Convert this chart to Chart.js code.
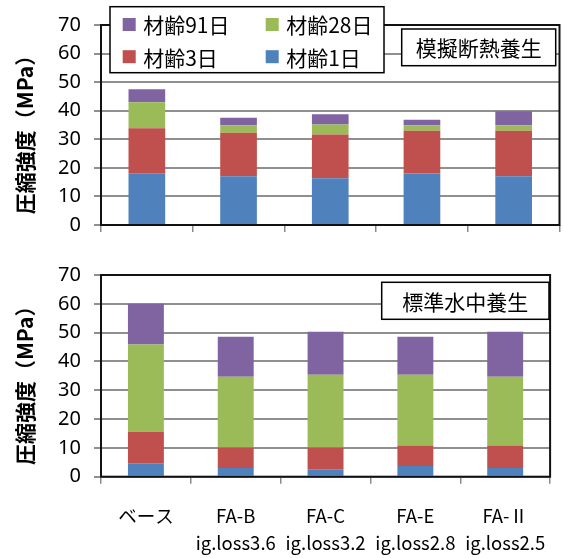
<!DOCTYPE html>
<html>
<head>
<meta charset="utf-8">
<script src="https://cdn.jsdelivr.net/npm/chart.js@4/dist/chart.umd.min.js"></script>
<style>
  html, body { margin: 0; padding: 0; background: #fff; }
  #wrap { position: relative; width: 564px; height: 558px; }
  canvas { position: absolute; left: 0; }
</style>
</head>
<body>
<div id="wrap">
  <canvas id="adiabatic" width="564" height="250" style="top:0"></canvas>
  <canvas id="standard" width="564" height="308" style="top:250px"></canvas>
</div>
<script>
// Mixes (with ignition loss) on the category axis
const categories = [
  ['ベース'],
  ['FA-B', 'ig.loss3.6'],
  ['FA-C', 'ig.loss3.2'],
  ['FA-E', 'ig.loss2.8'],
  ['FA-Ⅱ', 'ig.loss2.5']
];

const seriesLabels = ['材齢1日', '材齢3日', '材齢28日', '材齢91日'];

// Compressive strength (MPa) at each age — simulated adiabatic curing
const adiabaticDay1  = [18.1, 17.1, 16.4, 18.0, 17.1];
const adiabaticDay3  = [33.9, 32.3, 31.7, 33.0, 33.0];
const adiabaticDay28 = [43.0, 34.9, 35.2, 34.9, 34.9];
const adiabaticDay91 = [47.5, 37.5, 38.8, 36.8, 39.8];

// Compressive strength (MPa) at each age — standard water curing
const standardDay1  = [4.7, 3.0, 2.6, 3.7, 3.0];
const standardDay3  = [15.6, 10.1, 10.1, 10.8, 10.8];
const standardDay28 = [45.9, 34.7, 35.4, 35.4, 34.7];
const standardDay91 = [60.0, 48.6, 50.3, 48.6, 50.3];

const yTicks = [0, 10, 20, 30, 40, 50, 60, 70];

const seriesColors = ['#4F81BD', '#C0504D', '#9BBB59', '#8064A2'];
const numFont = "'Noto Sans', 'Noto Sans CJK JP', sans-serif";
const cjkFont = "'Noto Sans CJK JP', 'Noto Sans', sans-serif";

// Each stacked segment is the strength gained since the previous age
function gains(levels) {
  return levels.map((arr, i) => arr.map((v, j) => i === 0 ? v : +(v - levels[i - 1][j]).toFixed(2)));
}

function buildDatasets(levels) {
  const seg = gains(levels);
  return seg.map((data, i) => ({
    label: seriesLabels[i],
    data: data,
    backgroundColor: seriesColors[i],
    borderWidth: 0,
    barPercentage: 0.4,
    categoryPercentage: 1.0,
    stack: 'age'
  }));
}

// Frame round the plot area, y title, legend box and curing-condition box
const decorations = {
  id: 'decorations',
  afterDatasetsDraw(chart, args, opts) {
    const { ctx, chartArea: a } = chart;
    ctx.save();
    ctx.strokeStyle = '#111';
    ctx.lineWidth = 2;
    ctx.strokeRect(a.left, a.top, a.right - a.left, a.bottom - a.top);

    // rotated y-axis title
    ctx.save();
    ctx.translate(25, (a.top + a.bottom) / 2 + 4.5);
    ctx.rotate(-Math.PI / 2);
    ctx.fillStyle = '#000';
    ctx.font = "bold 21px " + cjkFont;
    ctx.textAlign = 'center';
    ctx.textBaseline = 'middle';
    ctx.fillText('圧縮強度（MPa）', 0, 0);
    ctx.restore();

    // legend
    if (opts.legend) {
      const L = opts.legend;
      ctx.fillStyle = '#fff';
      ctx.fillRect(L.x, L.y, L.w, L.h);
      ctx.lineWidth = 1.5;
      ctx.strokeStyle = '#000';
      ctx.strokeRect(L.x, L.y, L.w, L.h);
      const order = [[3, 2], [1, 0]];
      ctx.font = "21px " + cjkFont;
      ctx.textAlign = 'left';
      ctx.textBaseline = 'middle';
      order.forEach((row, r) => {
        row.forEach((di, c) => {
          const ds = chart.data.datasets[di];
          const sx = L.x + L.colX[c];
          const cy = L.y + L.rowY[r];
          ctx.fillStyle = ds.backgroundColor;
          ctx.fillRect(sx, cy - 6.5, 13, 13);
          ctx.fillStyle = '#000';
          ctx.fillText(ds.label, sx + 20.5, cy + 1);
        });
      });
    }

    // curing condition box
    if (opts.note) {
      const N = opts.note;
      ctx.fillStyle = '#fff';
      ctx.fillRect(N.x, N.y, N.w, N.h);
      ctx.lineWidth = 1.5;
      ctx.strokeStyle = '#000';
      ctx.strokeRect(N.x, N.y, N.w, N.h);
      ctx.fillStyle = '#000';
      ctx.font = "21px " + cjkFont;
      ctx.textAlign = 'center';
      ctx.textBaseline = 'middle';
      ctx.fillText(N.text, N.x + N.w / 2, N.y + N.h / 2 + 1);
    }
    ctx.restore();
  }
};

function makeChart(id, levels, cfg) {
  return new Chart(document.getElementById(id), {
    type: 'bar',
    data: { labels: categories, datasets: buildDatasets(levels) },
    plugins: [decorations],
    options: {
      responsive: false,
      animation: false,
      devicePixelRatio: 1,
      layout: { padding: cfg.padding },
      plugins: {
        legend: { display: false },
        tooltip: { enabled: false },
        title: { display: false },
        decorations: { legend: cfg.legend, note: cfg.note }
      },
      scales: {
        x: {
          stacked: true,
          offset: true,
          grid: { offset: true, drawOnChartArea: false, drawTicks: true, tickLength: 7, color: '#8a8a8a', lineWidth: 1.5 },
          border: { display: false },
          ticks: {
            display: cfg.showLabels,
            color: '#000',
            padding: 18,
            maxRotation: 0,
            autoSkip: false,
            font: { family: cjkFont, size: 18.5, lineHeight: 1.5 }
          },
          afterFit: s => { s.height = cfg.xHeight; }
        },
        y: {
          stacked: true,
          min: 0,
          max: 70,
          afterBuildTicks: s => { s.ticks = yTicks.map(v => ({ value: v })); },
          grid: { color: '#8f8f8f', lineWidth: 2, tickLength: 7, drawTicks: true },
          border: { display: false },
          ticks: {
            color: '#000',
            padding: 13,
            font: { family: numFont, size: 20 }
          },
          afterFit: s => { s.width = 101; }
        }
      }
    }
  });
}

makeChart('adiabatic',
  [adiabaticDay1, adiabaticDay3, adiabaticDay28, adiabaticDay91],
  {
    padding: { top: 15.7, right: 4.5, bottom: 0, left: 0 },
    xHeight: 18.3,
    showLabels: false,
    legend: { x: 110, y: 6.7, w: 274, h: 66, colX: [12.7, 155.7], rowY: [17.8, 50] },
    note: { text: '模擬断熱養生', x: 401.7, y: 29, w: 154, h: 36.7 }
  });

makeChart('standard',
  [standardDay1, standardDay3, standardDay28, standardDay91],
  {
    padding: { top: 21.3, right: 7.5, bottom: 0, left: 0 },
    xHeight: 81.3,
    showLabels: true,
    legend: null,
    note: { text: '標準水中養生', x: 381.7, y: 32.3, w: 167.3, h: 37 }
  });
</script>
</body>
</html>
